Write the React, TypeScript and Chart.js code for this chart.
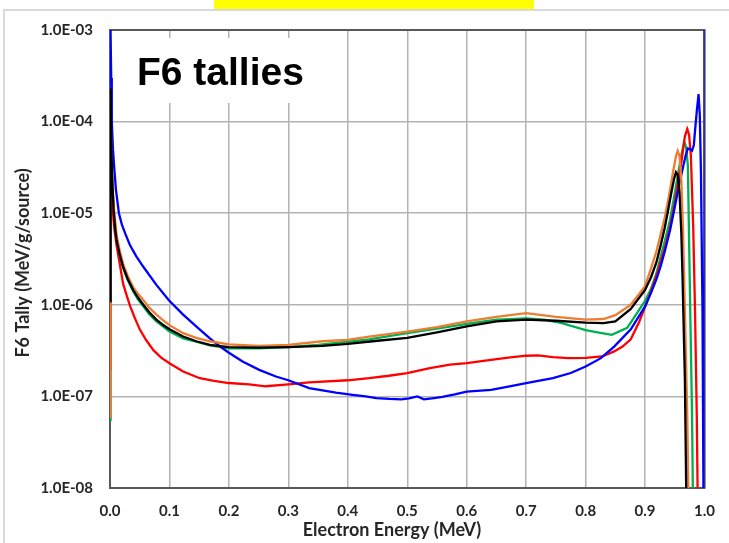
import React, { useEffect, useRef } from "react";
import { Chart, registerables } from "chart.js";

Chart.register(...registerables);

// ---- Axis ticks ----
const xTicks = [0, 0.1, 0.2, 0.3, 0.4, 0.5, 0.6, 0.7, 0.8, 0.9, 1.0];
const yDecades = [1e-8, 1e-7, 1e-6, 1e-5, 1e-4, 1e-3];

// ---- Series (Electron Energy in MeV, F6 tally in MeV/g/source) ----
const blackEnergy = [0, 0.001, 0.002, 0.004, 0.006, 0.009, 0.011, 0.016, 0.022, 0.03, 0.039, 0.047, 0.056, 0.066, 0.078, 0.089, 0.1, 0.123, 0.145, 0.168, 0.2, 0.25, 0.3, 0.357, 0.4, 0.45, 0.5, 0.55, 0.6, 0.65, 0.7, 0.75, 0.8, 0.83, 0.85, 0.876, 0.9, 0.91, 0.919, 0.926, 0.933, 0.939, 0.944, 0.949, 0.952, 0.955, 0.958, 0.961, 0.963, 0.967, 0.971];
const blackTally = [1.1e-6, 2.3e-4, 6e-5, 2.2e-5, 1.1e-5, 6.5e-6, 5.1e-6, 3.6e-6, 2.6e-6, 1.9e-6, 1.45e-6, 1.2e-6, 1.0e-6, 8.3e-7, 6.9e-7, 6.05e-7, 5.4e-7, 4.5e-7, 4.0e-7, 3.65e-7, 3.45e-7, 3.4e-7, 3.45e-7, 3.56e-7, 3.75e-7, 4.05e-7, 4.35e-7, 5.0e-7, 5.8e-7, 6.6e-7, 6.9e-7, 6.7e-7, 6.4e-7, 6.3e-7, 6.6e-7, 9.0e-7, 1.45e-6, 2.0e-6, 2.9e-6, 4.4e-6, 6.9e-6, 1.1e-5, 1.65e-5, 2.4e-5, 2.8e-5, 2.6e-5, 1.65e-5, 6e-6, 2.0e-6, 1.5e-7, 1e-9];

const orangeEnergy = [0, 0.001, 0.002, 0.004, 0.007, 0.011, 0.016, 0.022, 0.03, 0.039, 0.047, 0.056, 0.066, 0.078, 0.089, 0.1, 0.123, 0.145, 0.168, 0.2, 0.25, 0.3, 0.357, 0.4, 0.436, 0.5, 0.55, 0.6, 0.65, 0.7, 0.75, 0.8, 0.83, 0.85, 0.876, 0.9, 0.91, 0.919, 0.926, 0.933, 0.94, 0.947, 0.952, 0.955, 0.958, 0.961, 0.964, 0.967, 0.971, 0.975];
const orangeTally = [6e-8, 1.5e-4, 5e-5, 2e-5, 1.05e-5, 5.8e-6, 4.0e-6, 2.8e-6, 2.05e-6, 1.55e-6, 1.32e-6, 1.13e-6, 9.3e-7, 7.8e-7, 6.8e-7, 6.0e-7, 4.9e-7, 4.35e-7, 4.0e-7, 3.7e-7, 3.56e-7, 3.65e-7, 4.0e-7, 4.15e-7, 4.5e-7, 5.1e-7, 5.7e-7, 6.6e-7, 7.4e-7, 8.1e-7, 7.4e-7, 6.9e-7, 7.0e-7, 7.7e-7, 1.0e-6, 1.6e-6, 2.5e-6, 3.8e-6, 5.8e-6, 8.9e-6, 1.5e-5, 2.8e-5, 4.2e-5, 4.8e-5, 4.2e-5, 2.3e-5, 6e-6, 8.7e-7, 6e-8, 1e-9];

const blueEnergy = [0, 0.001, 0.002, 0.003, 0.005, 0.007, 0.01, 0.015, 0.02, 0.026, 0.0335, 0.044, 0.056, 0.078, 0.099, 0.123, 0.145, 0.168, 0.184, 0.2, 0.223, 0.251, 0.279, 0.3, 0.335, 0.38, 0.408, 0.43, 0.448, 0.47, 0.49, 0.503, 0.517, 0.528, 0.545, 0.559, 0.58, 0.6, 0.641, 0.67, 0.7, 0.745, 0.775, 0.8, 0.825, 0.848, 0.876, 0.9, 0.91, 0.919, 0.926, 0.933, 0.942, 0.95, 0.957, 0.963, 0.968, 0.972, 0.976, 0.979, 0.982, 0.984, 0.987, 0.99, 0.992, 0.994, 0.9966, 0.999, 1.0, 1.0];
const blueTally = [1e-3, 9e-4, 3e-4, 1e-4, 5e-5, 3.2e-5, 1.8e-5, 1e-5, 7.5e-6, 5.9e-6, 4.5e-6, 3.4e-6, 2.6e-6, 1.65e-6, 1.12e-6, 7.8e-7, 5.8e-7, 4.3e-7, 3.55e-7, 3.0e-7, 2.4e-7, 1.95e-7, 1.65e-7, 1.5e-7, 1.23e-7, 1.1e-7, 1.04e-7, 1.0e-7, 9.6e-8, 9.4e-8, 9.3e-8, 9.5e-8, 1.0e-7, 9.3e-8, 9.6e-8, 9.9e-8, 1.05e-7, 1.13e-7, 1.18e-7, 1.28e-7, 1.40e-7, 1.58e-7, 1.8e-7, 2.12e-7, 2.6e-7, 3.5e-7, 5.4e-7, 9.6e-7, 1.35e-6, 1.9e-6, 2.6e-6, 3.8e-6, 6.5e-6, 1.17e-5, 2.0e-5, 3.0e-5, 4.2e-5, 5.1e-5, 5.0e-5, 4.8e-5, 5.5e-5, 7.9e-5, 1.3e-4, 2.0e-4, 1.2e-4, 2.8e-5, 8.7e-7, 1e-9, 1e-9, 1e-3];

const redEnergy = [0, 0.001, 0.002, 0.004, 0.007, 0.011, 0.016, 0.022, 0.028, 0.034, 0.042, 0.05, 0.061, 0.073, 0.086, 0.1, 0.123, 0.151, 0.175, 0.2, 0.234, 0.262, 0.3, 0.335, 0.4, 0.436, 0.469, 0.5, 0.538, 0.572, 0.6, 0.641, 0.67, 0.7, 0.72, 0.745, 0.77, 0.8, 0.828, 0.848, 0.862, 0.876, 0.89, 0.9, 0.91, 0.919, 0.926, 0.933, 0.942, 0.95, 0.956, 0.961, 0.967, 0.971, 0.974, 0.977, 0.981, 0.984, 0.987, 0.99];
const redTally = [2e-7, 6e-5, 3e-5, 1.2e-5, 7e-6, 4.5e-6, 2.9e-6, 1.7e-6, 1.27e-6, 9.6e-7, 7.1e-7, 5.4e-7, 4.1e-7, 3.2e-7, 2.65e-7, 2.3e-7, 1.87e-7, 1.58e-7, 1.48e-7, 1.4e-7, 1.35e-7, 1.29e-7, 1.35e-7, 1.42e-7, 1.5e-7, 1.58e-7, 1.68e-7, 1.80e-7, 2.04e-7, 2.22e-7, 2.31e-7, 2.51e-7, 2.65e-7, 2.78e-7, 2.8e-7, 2.69e-7, 2.62e-7, 2.63e-7, 2.73e-7, 3.1e-7, 3.5e-7, 4.2e-7, 6.5e-7, 9.5e-7, 1.4e-6, 2.05e-6, 2.9e-6, 4.1e-6, 7e-6, 1.28e-5, 2.3e-5, 3.6e-5, 6.9e-5, 8.3e-5, 7.2e-5, 4.3e-5, 7e-6, 8.7e-7, 6e-8, 1e-9];

const greenEnergy = [0, 0.001, 0.002, 0.004, 0.007, 0.01, 0.015, 0.022, 0.03, 0.039, 0.047, 0.056, 0.066, 0.078, 0.089, 0.1, 0.123, 0.145, 0.168, 0.2, 0.25, 0.3, 0.35, 0.4, 0.436, 0.5, 0.55, 0.6, 0.65, 0.7, 0.73, 0.76, 0.8, 0.82, 0.844, 0.87, 0.9, 0.91, 0.919, 0.926, 0.933, 0.942, 0.95, 0.956, 0.961, 0.966, 0.969, 0.972, 0.976, 0.979, 0.982];
const greenTally = [5.5e-8, 1e-4, 4e-5, 1.8e-5, 9e-6, 6e-6, 3.8e-6, 2.55e-6, 1.85e-6, 1.4e-6, 1.15e-6, 9.6e-7, 7.9e-7, 6.6e-7, 5.8e-7, 5.1e-7, 4.3e-7, 3.95e-7, 3.6e-7, 3.35e-7, 3.35e-7, 3.45e-7, 3.65e-7, 3.95e-7, 4.2e-7, 4.9e-7, 5.5e-7, 6.2e-7, 6.9e-7, 7.1e-7, 6.9e-7, 6.3e-7, 5.3e-7, 5.0e-7, 4.7e-7, 5.6e-7, 1.1e-6, 1.5e-6, 2.2e-6, 3.3e-6, 4.9e-6, 8.5e-6, 1.65e-5, 2.8e-5, 4.3e-5, 6.0e-5, 5.3e-5, 3.3e-5, 8.5e-7, 6.3e-8, 1e-9];

const chartLabel = "F6 tallies";
const xTitle = "Electron Energy (MeV)";
const yTitle = "F6 Tally (MeV/g/source)";

function toPoints(xs: number[], ys: number[]) {
  return xs.map((x, i) => ({ x, y: ys[i] }));
}

function fmtExp(v: number) {
  const e = Math.round(Math.log10(v));
  const sign = e < 0 ? "-" : "+";
  return "1.0E" + sign + String(Math.abs(e)).padStart(2, "0");
}

const decorPlugin = {
  id: "decor",
  beforeDraw(chart: any) {
    const ctx = chart.ctx;
    ctx.save();
    ctx.fillStyle = "#ffffff";
    ctx.fillRect(0, 0, chart.width, chart.height);
    ctx.fillStyle = "#ffff00";
    ctx.fillRect(214, 0, 320, 9);
    ctx.strokeStyle = "#d9d9d9";
    ctx.lineWidth = 2;
    ctx.strokeRect(4, 10, 900, 700);
    ctx.restore();
  },
  beforeDatasetsDraw(chart: any) {
    const { ctx, chartArea: a } = chart;
    ctx.save();
    ctx.strokeStyle = "#595959";
    ctx.lineWidth = 2;
    ctx.beginPath();
    ctx.moveTo(a.left, a.top);
    ctx.lineTo(a.right, a.top);
    ctx.lineTo(a.right, a.bottom);
    ctx.stroke();
    ctx.fillStyle = "#ffffff";
    ctx.fillRect(a.left + 15, a.top + 8, 190, 65);
    ctx.fillStyle = "#000000";
    ctx.font = 'bold 39px "Liberation Sans", Arial, sans-serif';
    ctx.textAlign = "left";
    ctx.textBaseline = "alphabetic";
    ctx.fillText(chartLabel, a.left + 27, a.top + 55);
    ctx.restore();
  },
  afterDraw(chart: any) {
    const { ctx, chartArea: a } = chart;
    ctx.save();
    ctx.fillStyle = "#262626";
    ctx.font = 'bold 18px Lato, "Open Sans", sans-serif';
    ctx.textAlign = "center";
    ctx.textBaseline = "middle";
    ctx.fillText(xTitle, 392, 530);
    ctx.translate(23, (a.top + a.bottom) / 2 + 4);
    ctx.rotate(-Math.PI / 2);
    ctx.fillText(yTitle, 0, 0);
    ctx.restore();
  },
};

export default function App() {
  const ref = useRef<HTMLCanvasElement>(null);
  useEffect(() => {
    const tickFont = { family: 'Lato, "Open Sans", sans-serif', weight: "bold" as const, size: 15 };
    const chart = new Chart(ref.current!, {
      type: "line",
      data: {
        datasets: [
          { data: toPoints(blackEnergy, blackTally), borderColor: "#000000" },
          { data: toPoints(orangeEnergy, orangeTally), borderColor: "#ed7d31" },
          { data: toPoints(blueEnergy, blueTally), borderColor: "#0000ff" },
          { data: toPoints(redEnergy, redTally), borderColor: "#ff0000" },
          { data: toPoints(greenEnergy, greenTally), borderColor: "#00b050" },
        ],
      },
      options: {
        animation: false,
        responsive: false,
        devicePixelRatio: 1,
        layout: { padding: { top: 30, right: 22, bottom: 0, left: 0 } },
        plugins: { legend: { display: false }, tooltip: { enabled: false } },
        elements: {
          point: { radius: 0 },
          line: { borderWidth: 2.3, tension: 0, fill: false },
        },
        scales: {
          x: {
            type: "linear",
            min: 0,
            max: 1,
            afterBuildTicks: (s: any) => {
              s.ticks = xTicks.map((v) => ({ value: v }));
            },
            afterFit: (s: any) => {
              s.height = 55;
            },
            ticks: {
              callback: (v: any) => Number(v).toFixed(1),
              font: tickFont,
              color: "#262626",
              padding: 14,
              maxRotation: 0,
              autoSkip: false,
            },
            grid: { color: "#b3b3b3", lineWidth: 1.5, drawTicks: false },
            border: { color: "#595959", width: 2 },
          },
          y: {
            type: "logarithmic",
            min: 1e-8,
            max: 1e-3,
            afterBuildTicks: (s: any) => {
              s.ticks = yDecades.map((v) => ({ value: v }));
            },
            afterFit: (s: any) => {
              s.width = 110;
            },
            ticks: {
              callback: (v: any) => fmtExp(Number(v)),
              font: tickFont,
              color: "#262626",
              padding: 17,
              autoSkip: false,
            },
            grid: { color: "#b3b3b3", lineWidth: 1.5, drawTicks: false },
            border: { color: "#595959", width: 2 },
          },
        },
      },
      plugins: [decorPlugin],
    } as any);
    return () => chart.destroy();
  }, []);
  return (
    <div style={{ position: "absolute", left: 0, top: 0, width: 729, height: 543 }}>
      <canvas ref={ref} width={729} height={543} style={{ display: "block" }} />
    </div>
  );
}
